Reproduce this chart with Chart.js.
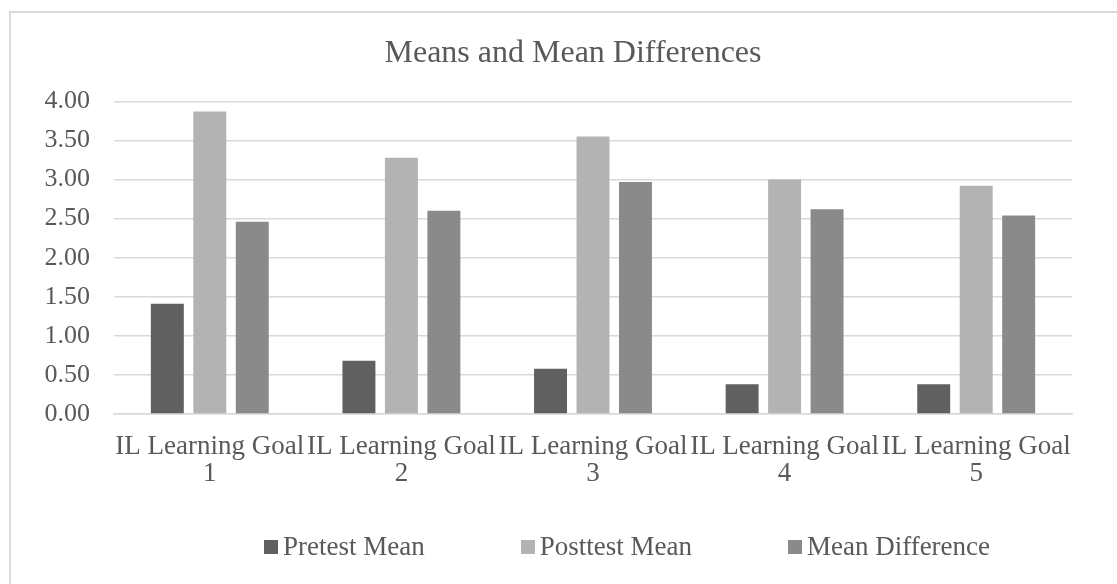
<!DOCTYPE html>
<html>
<head>
<meta charset="utf-8">
<title>Means and Mean Differences</title>
<script src="https://cdn.jsdelivr.net/npm/chart.js@4.4.1/dist/chart.umd.min.js"></script>
<style>
  html, body { margin: 0; padding: 0; background: #ffffff; width: 1117px; height: 584px; overflow: hidden; }
  #frame { position: absolute; left: 9px; top: 11px; width: 1200px; height: 700px;
           border-top: 2px solid #d9d9d9; border-left: 2px solid #d9d9d9; box-sizing: border-box; }
  #chart { position: absolute; left: 0; top: 0; }
  #legend { position: absolute; left: 0; top: 531px; width: 1254px; display: flex; justify-content: center;
            gap: 96px; font-family: "Liberation Serif", "Times New Roman", serif; font-size: 27px; color: #595959; }
  #legend .item { display: flex; align-items: center; white-space: nowrap; }
  #legend .swatch { width: 14px; height: 14px; margin-right: 5px; }
</style>
</head>
<body>
<div id="frame"></div>
<canvas id="chart" width="1117" height="584"></canvas>
<div id="legend"></div>
<script>
// Learning goals on the x axis (two-line labels)
const goals = [
  ['IL Learning Goal', '1'],
  ['IL Learning Goal', '2'],
  ['IL Learning Goal', '3'],
  ['IL Learning Goal', '4'],
  ['IL Learning Goal', '5']
];

// Series values per goal
const pretestMean    = [1.41, 0.68, 0.58, 0.38, 0.38];
const posttestMean   = [3.87, 3.28, 3.55, 3.00, 2.92];
const meanDifference = [2.46, 2.60, 2.97, 2.62, 2.54];

const seriesNames  = ['Pretest Mean', 'Posttest Mean', 'Mean Difference'];
const seriesColors = ['#606060', '#b3b3b3', '#8a8a8a'];

// Value axis range and step
const yMin = 0;
const yMax = 4;
const yStep = 0.5;

const serif = '"Liberation Serif", "Times New Roman", serif';
const textColor = '#595959';
const gridColor = '#d9d9d9';

// Legend rendered as HTML from the chart's own legend items
const htmlLegend = {
  id: 'htmlLegend',
  afterUpdate(chart) {
    const box = document.getElementById('legend');
    box.innerHTML = '';
    const items = chart.options.plugins.legend.labels.generateLabels(chart);
    items.forEach(it => {
      const row = document.createElement('div');
      row.className = 'item';
      const sw = document.createElement('span');
      sw.className = 'swatch';
      sw.style.background = it.fillStyle;
      const label = document.createElement('span');
      label.textContent = it.text;
      row.appendChild(sw);
      row.appendChild(label);
      box.appendChild(row);
    });
  }
};

// Nudges the title block sideways so the heading sits a little right of the canvas middle
const titleOffset = {
  id: 'titleOffset',
  afterLayout(chart, args, opts) {
    const t = chart.titleBlock;
    if (t) { t.left += opts.dx; t.right += opts.dx; }
  }
};

function draw() {
  const seriesData = [pretestMean, posttestMean, meanDifference];
  new Chart(document.getElementById('chart'), {
    type: 'bar',
    data: {
      labels: goals,
      datasets: seriesNames.map((name, i) => ({
        label: name,
        data: seriesData[i],
        backgroundColor: seriesColors[i],
        borderWidth: 0,
        categoryPercentage: 0.665,
        barPercentage: 0.776
      }))
    },
    options: {
      responsive: false,
      animation: false,
      devicePixelRatio: 1,
      layout: { padding: { left: 0, right: 45, top: 0, bottom: 78 } },
      plugins: {
        legend: { display: false },
        tooltip: { enabled: false },
        titleOffset: { dx: 37 },
        title: {
          display: true,
          text: 'Means and Mean Differences',
          color: textColor,
          font: { family: serif, size: 32, weight: 'normal', lineHeight: 1.2 },
          padding: { top: 34, bottom: 29 }
        }
      },
      scales: {
        x: {
          grid: { display: false, drawTicks: false },
          border: { display: true, color: gridColor, width: 1.5 },
          ticks: {
            color: textColor,
            font: { family: serif, size: 27, lineHeight: 1.0 },
            padding: 19,
            autoSkip: false,
            maxRotation: 0,
            minRotation: 0
          }
        },
        y: {
          min: yMin,
          max: yMax,
          grid: { color: gridColor, lineWidth: 1.5, drawTicks: false },
          border: { display: false },
          ticks: {
            stepSize: yStep,
            color: textColor,
            font: { family: serif, size: 26 },
            padding: 24,
            callback: v => Number(v).toFixed(2)
          },
          afterFit(scale) { scale.width = 114; }
        }
      }
    },
    plugins: [htmlLegend, titleOffset]
  });
}

if (document.fonts && document.fonts.load) {
  Promise.all([
    document.fonts.load('26px "Liberation Serif"'),
    document.fonts.load('32px "Liberation Serif"')
  ]).then(draw, draw);
} else {
  draw();
}
</script>
</body>
</html>
